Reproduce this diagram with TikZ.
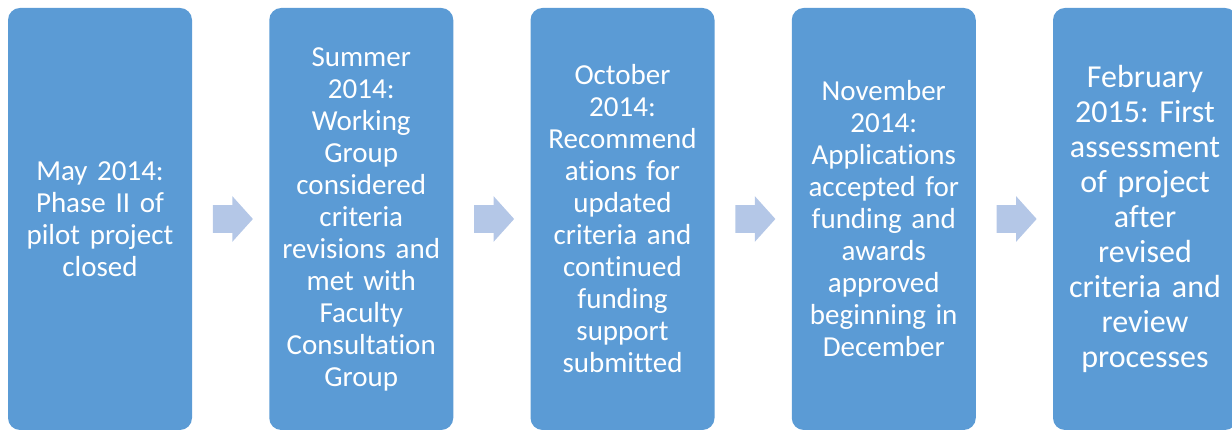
\documentclass[tikz,border=0pt]{standalone}
\usepackage{fontspec}
\setmainfont{Carlito}[Ligatures=NoCommon]
\usetikzlibrary{shapes.arrows,calc}
\definecolor{stepblue}{HTML}{5B9BD5}
\definecolor{gapblue}{HTML}{B4C7E7}
\frenchspacing

\begin{document}
\begin{tikzpicture}[x=0.5pt, y=0.5pt,
    phase/.style={fill=stepblue, rounded corners=6pt, minimum width=92pt, minimum height=211pt,
        text width=86pt, align=center, text=white, inner sep=0pt,
        font=\fontsize{14.5}{16}\selectfont},
    gap/.style={single arrow, fill=gapblue, minimum height=20pt, inner xsep=0pt, inner ysep=6.75pt,
        single arrow head extend=4.5pt, single arrow tip angle=96, xshift=-2pt}]
    \useasboundingbox (0,0) rectangle (1232,432);
    % the five phases, left to right
    \foreach \x/\txt in {
        0/{May 2014:\\Phase II of\\pilot project\\closed},
        1/{Summer\\2014:\\Working\\Group\\considered\\criteria\\revisions and\\met with\\Faculty\\Consultation\\Group},
        2/{October\\2014:\\Recommend\\ations for\\updated\\criteria and\\continued\\funding\\support\\submitted},
        3/{November\\2014:\\Applications\\accepted for\\funding and\\awards\\approved\\beginning in\\December}}
       \node[phase] (p\x) at (100+\x*261.25, 213) {\txt};
    \node[phase, font=\fontsize{16}{17.5}\selectfont] (p4) at (1145, 213)
        {February\\2015: First\\assessment\\of project\\after\\revised\\criteria and\\review\\processes};
    % block arrows in the gaps
    \foreach \x [count=\y] in {0,...,3}
       \node[gap] (a\x) at ($(p\x.east)!0.5!(p\y.west)$) {};
\end{tikzpicture}
\end{document}
